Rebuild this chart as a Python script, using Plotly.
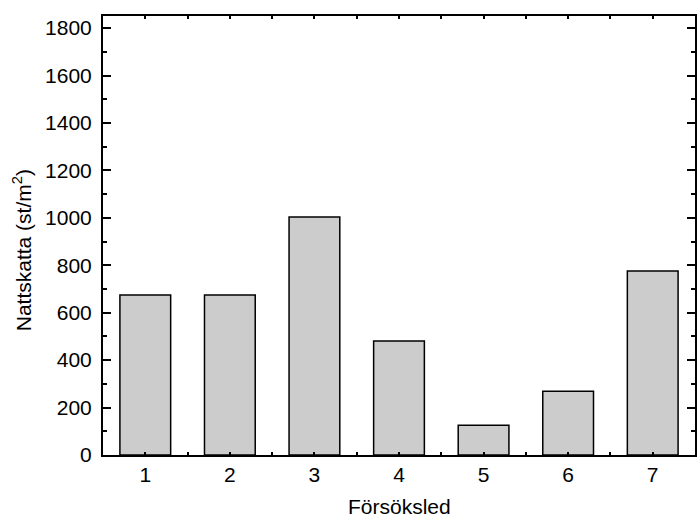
import plotly.graph_objects as go

categories = [1, 2, 3, 4, 5, 6, 7]
values = [675, 675, 1003, 481, 125, 269, 776]
y_tickvals = [0, 200, 400, 600, 800, 1000, 1200, 1400, 1600, 1800]
x_title = "Försöksled"
y_title = "Nattskatta (st/m<sup>2</sup>)"

W, H = 697, 518
L, R, T, B = 103, 0, 16, 63
pw, ph = W - L - R, H - T - B

font = dict(family="Liberation Sans, Arial, sans-serif", size=21, color="black")

fig = go.Figure(go.Bar(
    x=categories, y=values, width=0.6,
    marker=dict(color="#cccccc", line=dict(color="black", width=1.5)),
))

fig.update_layout(
    width=W, height=H,
    margin=dict(l=L, r=R, t=T, b=B, pad=0),
    plot_bgcolor="white", paper_bgcolor="white",
    showlegend=False, font=font,
)

fig.update_xaxes(
    range=[0.5, 7.5], tickvals=categories, ticktext=[str(c) for c in categories],
    ticks="inside", ticklen=3, tickwidth=1.5, tickcolor="black",
    minor=dict(dtick=0.5, tick0=0.5, ticks="inside", ticklen=3, tickwidth=1.5, tickcolor="black"),
    showline=True, linecolor="black", linewidth=2, mirror="ticks",
    showgrid=False, zeroline=False, tickfont=font, ticklabelstandoff=0,
)
fig.update_yaxes(
    range=[0, 1851], tickvals=y_tickvals,
    ticks="inside", ticklen=8, tickwidth=1.5, tickcolor="black",
    minor=dict(dtick=100, ticks="inside", ticklen=4, tickwidth=1.5, tickcolor="black"),
    showline=True, linecolor="black", linewidth=2, mirror="ticks",
    showgrid=False, zeroline=False, tickfont=font, ticklabelstandoff=5,
)

fig.add_annotation(text=x_title, xref="paper", yref="paper",
                   x=0.5, y=-(506 - (T + ph)) / ph, xanchor="center", yanchor="middle",
                   showarrow=False, font=font)
fig.add_annotation(text=y_title, xref="paper", yref="paper",
                   x=(22 - L) / pw, y=((T + ph) - 250) / ph, xanchor="center", yanchor="middle",
                   textangle=-90, showarrow=False, font=font)

fig.write_html("out.html", config={"displayModeBar": False},
               post_script="document.body.style.margin='0';document.body.style.overflow='hidden';")
